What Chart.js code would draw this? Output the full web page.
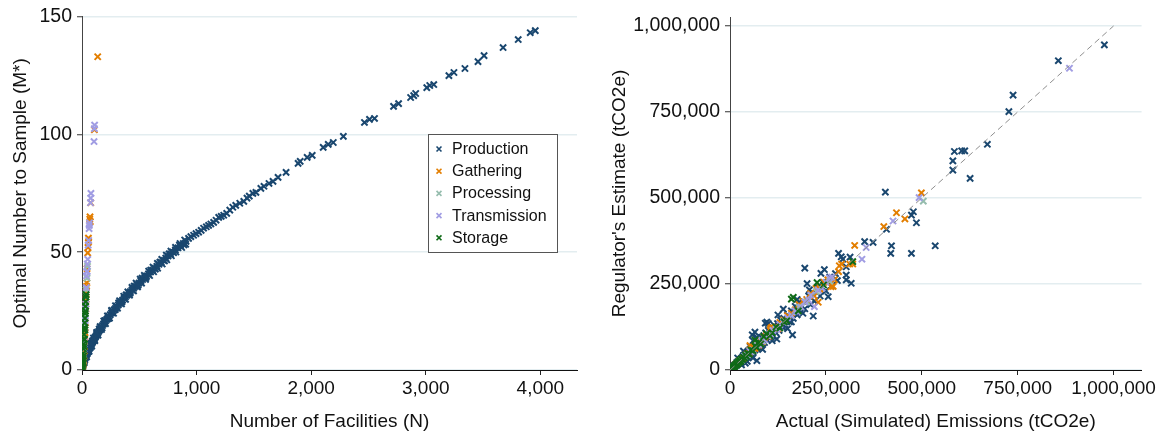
<!DOCTYPE html>
<html>
<head>
<meta charset="utf-8">
<title>Optimal sampling and regulator estimates</title>
<script src="https://cdn.jsdelivr.net/npm/chart.js@4/dist/chart.umd.min.js"></script>
<style>
  html, body { margin: 0; padding: 0; background: #fff; }
  #wrap { position: relative; width: 1159px; height: 432px; overflow: hidden; }
  canvas { position: absolute; top: 0; }
  #left { left: 0; width: 590px; height: 432px; }
  #right { left: 590px; width: 569px; height: 432px; }
</style>
</head>
<body>
<div id="wrap">
  <canvas id="left" width="590" height="432"></canvas>
  <canvas id="right" width="569" height="432"></canvas>
</div>
<script>
// ---- Segments ----
const segments = ['Production', 'Gathering', 'Processing', 'Transmission', 'Storage'];

// ---- Left panel: number of facilities (N) vs optimal sample size (M*) ----
const productionN = [
  1, 2, 3, 4, 5, 6, 7, 8, 9, 10,
  12, 14, 16, 18, 20, 22, 25, 28, 31, 34,
  37, 40, 44, 48, 52, 56, 60, 65, 70, 75,
  80, 86, 92, 98, 104, 110, 117, 124, 131, 138,
  146, 154, 162, 170, 179, 188, 197, 206, 216, 226,
  236, 247, 258, 269, 280, 292, 304, 316, 328, 341,
  354, 367, 380, 394, 408, 422, 436, 451, 466, 481,
  497, 513, 529, 546, 563, 580, 598, 616, 634, 653,
  672, 691, 711, 731, 751, 772, 793, 815, 838, 861,
  884, 908,
  15, 24, 33, 46, 58, 72, 90, 108, 128, 150,
  175, 200, 230, 260, 290, 320, 350, 385, 420, 455,
  490, 525, 560, 600, 640, 680, 720, 760, 800, 850,
  890,
  20, 40, 62, 85, 112, 140, 170, 205, 240, 275,
  310, 345, 380, 415, 450, 485, 520, 555, 590, 625,
  660, 700, 740, 780, 820, 870, 905,
  30, 52, 75, 100, 128, 158, 190, 222, 258, 292,
  328, 364, 400, 436, 472, 508, 544, 582, 620, 658,
  696, 736, 776, 816, 856, 896,
  930, 950, 974, 995, 1018, 1040, 1061, 1085, 1105, 1125,
  1149, 1170, 1193, 1215, 1237, 1263, 1290, 1316, 1342, 1377,
  1412, 1440, 1460, 1491, 1518, 1561, 1588, 1632, 1667, 1711,
  1781, 1886, 1904, 1965, 2009, 2105, 2149, 2193, 2281, 2465,
  2509, 2553, 2719, 2763, 2868, 2895, 2912, 3009, 3035, 3070,
  3202, 3246, 3342, 3456, 3509, 3675, 3807, 3912, 3956
];
const productionM = [
  0.4, 0.7, 1.0, 1.3, 1.6, 1.8, 2.0, 2.3, 2.5, 2.7,
  3.0, 3.3, 3.6, 3.9, 4.2, 4.5, 4.9, 5.3, 5.6, 6.0,
  6.4, 6.7, 7.1, 7.6, 8.0, 8.4, 8.8, 9.3, 9.8, 10.2,
  10.7, 11.3, 11.8, 12.4, 12.9, 13.4, 14.0, 14.6, 15.2, 15.8,
  16.4, 17.0, 17.7, 18.3, 18.9, 19.6, 20.2, 20.9, 21.5, 22.2,
  22.8, 23.5, 24.2, 24.9, 25.5, 26.2, 26.9, 27.6, 28.3, 29.0,
  29.7, 30.4, 31.1, 31.8, 32.6, 33.3, 34.0, 34.7, 35.5, 36.2,
  36.9, 37.7, 38.4, 39.2, 40.0, 40.8, 41.6, 42.4, 43.2, 44.0,
  44.9, 45.7, 46.6, 47.5, 48.4, 49.3, 50.1, 51.0, 51.9, 52.8,
  53.7, 54.6,
  3.8, 4.3, 6.5, 7.0, 9.3, 9.5, 12.3, 12.8, 15.5, 17.4,
  17.9, 21.0, 21.8, 25.0, 25.6, 28.5, 29.0, 31.9, 32.6, 35.6,
  36.0, 39.0, 39.3, 42.4, 42.8, 45.8, 46.3, 49.3, 49.8, 53.0,
  53.1,
  3.1, 5.6, 7.9, 10.1, 12.5, 14.8, 17.2, 19.7, 22.0, 24.1,
  26.2, 28.1, 30.0, 31.8, 33.6, 35.3, 36.9, 38.5, 40.1, 41.7,
  43.2, 45.0, 46.8, 48.5, 50.1, 52.0, 53.4,
  6.6, 9.1, 11.3, 13.6, 16.0, 18.4, 20.8, 23.0, 25.3, 27.3,
  29.4, 31.3, 33.2, 35.1, 36.9, 38.6, 40.2, 42.0, 43.7, 45.3,
  47.0, 48.8, 50.5, 52.1, 53.7, 55.2,
  55.9, 56.6, 57.2, 57.9, 58.5, 59.3, 60.2, 60.8, 61.4, 62.0,
  62.7, 63.6, 64.8, 65.2, 65.7, 66.5, 67.9, 69.1, 69.9, 70.8,
  71.6, 73.0, 73.8, 75.0, 75.4, 77.1, 78.0, 79.2, 80.1, 81.8,
  83.9, 87.7, 88.6, 90.3, 91.1, 94.5, 95.8, 96.6, 99.2, 105.1,
  106.4, 106.8, 111.9, 113.1, 115.7, 116.5, 117.4, 119.9, 120.8, 121.2,
  125.0, 126.3, 128.0, 130.9, 133.5, 136.9, 140.3, 143.2, 144.1
];
const gatheringN = [6, 8, 10, 12, 14, 16, 18, 20, 22, 24, 26, 28, 30, 34, 36, 38, 40, 42, 44, 50, 52, 56, 58, 68, 70, 72, 76, 108, 137];
const gatheringM = [0.5, 1, 2, 3, 4, 6, 8, 10, 12, 14, 15.6, 18, 20, 26, 30, 33, 35.5, 37, 43, 49.7, 52, 56, 54.5, 64, 65, 63, 71, 102, 133];
const processingN = [6, 8, 12, 16, 20, 24, 28, 32, 36, 44, 48];
const processingM = [2, 4, 7, 11, 15, 19, 23, 27, 34, 39, 44];
const transmissionN = [12, 16, 20, 26, 28, 30, 32, 34, 36, 38, 40, 42, 44, 46, 50, 54, 58, 62, 64, 66, 74, 76, 78, 105, 108, 110];
const transmissionM = [6, 9, 12, 18, 21, 22, 26, 28, 31, 35, 40, 41.6, 42, 45, 47, 53, 55, 60, 61.4, 62.5, 71, 73, 75, 97, 102.5, 104];
const storageN = [1, 2, 3, 4, 5, 6, 8, 10, 10, 12, 14, 14, 16, 18, 18, 20, 22, 22, 24, 26, 26, 28, 30, 30, 32, 34, 36];
const storageM = [0.5, 1, 1.5, 2, 3, 4, 5, 7, 3, 9, 11, 6, 13, 15, 10, 17, 18, 13, 20, 22, 17, 24, 27, 25, 29, 31, 32];

const facilityTicks = [0, 1000, 2000, 3000, 4000];
const sampleTicks = [0, 50, 100, 150];

// ---- Right panel: [actual (simulated), regulator's estimate], thousand tCO2e ----
const productionEmissions = [
  [976, 945], [856, 899], [738, 799], [727, 751], [671, 656], [585, 635], [604, 637], [612, 637],
  [581, 608], [581, 581], [626, 557], [405, 517], [478, 460], [473, 450], [486, 428], [408, 409],
  [351, 373], [373, 371], [421, 361], [535, 361], [419, 339], [473, 339], [283, 339], [290, 329],
  [313, 328], [294, 322], [195, 296], [246, 292], [303, 300], [237, 281], [303, 276], [303, 262],
  [316, 252], [201, 251], [256, 213], [207, 233], [217, 157], [163, 102], [92, 136], [58, 102],
  [53, 68], [228, 240], [139, 177], [96, 139], [65, 110], [70, 27], [35, 42], [122, 90], [139, 124],
  [2, 3], [4, 2], [5, 6], [7, 5], [8, 9], [10, 8], [12, 14], [13, 11], [15, 16], [17, 14],
  [18, 22], [20, 18], [22, 25], [24, 20], [25, 30], [27, 24], [29, 33], [30, 27], [32, 36], [34, 29],
  [36, 40], [38, 33], [40, 45], [42, 36], [44, 50], [46, 41], [48, 55], [50, 44], [52, 60], [55, 48],
  [57, 65], [60, 52], [62, 70], [65, 58], [68, 75], [70, 62], [72, 82], [75, 66], [78, 88], [80, 70],
  [82, 95], [85, 78], [88, 100], [90, 80], [93, 108], [96, 88], [100, 115], [104, 92], [108, 120], [112, 100],
  [115, 130], [120, 108], [124, 135], [128, 115], [132, 145], [136, 125], [140, 150], [145, 130], [150, 160], [155, 140],
  [160, 172], [165, 150], [170, 185], [175, 160], [180, 195], [185, 170], [190, 200], [195, 178], [205, 215], [210, 190],
  [215, 225], [220, 200], [230, 240], [235, 215], [242, 255], [250, 230], [260, 270], [265, 245], [275, 280], [280, 260],
  [45, 25], [60, 35], [70, 95], [35, 55], [85, 60], [110, 85], [125, 160], [100, 135], [150, 120], [175, 205],
  [60, 85], [30, 15], [20, 35], [40, 20], [160, 140], [190, 165]
];
const gatheringEmissions = [
  [499, 515], [434, 457], [456, 439], [401, 417], [325, 362], [312, 308], [285, 303], [283, 286],
  [272, 262], [224, 237], [263, 242], [291, 308], [320, 308], [269, 243], [230, 197], [234, 235],
  [109, 124], [52, 71], [106, 121],
  [5, 6], [10, 9], [15, 16], [20, 19], [25, 27], [30, 31], [35, 34], [40, 42], [45, 46], [50, 48],
  [55, 58], [60, 62], [65, 63], [70, 75], [75, 72], [80, 85], [85, 82], [90, 95], [95, 100], [100, 98],
  [105, 115], [110, 118], [115, 122], [120, 125], [125, 120], [130, 138], [140, 145], [150, 158], [160, 165], [170, 175],
  [180, 190], [190, 200], [200, 205], [210, 222], [220, 215], [235, 240], [245, 255], [255, 262]
];
const processingEmissions = [
  [504, 491], [5, 5], [12, 12], [20, 21], [30, 29], [40, 41], [55, 54], [70, 71], [85, 84],
  [100, 102], [120, 119], [140, 142], [160, 158], [180, 183], [200, 198], [225, 228], [260, 258]
];
const transmissionEmissions = [
  [885, 877], [493, 501], [425, 433], [355, 356], [344, 322], [259, 267], [265, 270], [211, 218],
  [123, 121], [176, 169], [220, 184],
  [8, 8], [15, 14], [22, 23], [30, 28], [38, 40], [45, 43], [52, 55], [60, 58], [68, 70], [75, 74],
  [82, 85], [90, 88], [98, 100], [105, 104], [112, 115], [120, 118], [130, 132], [140, 138], [150, 152], [160, 158],
  [170, 172], [185, 183], [195, 198], [205, 203], [230, 232], [240, 238], [250, 255]
];
const storageEmissions = [
  [227, 254], [244, 247], [320, 315], [160, 206], [165, 211], [178, 172], [148, 143], [141, 140],
  [104, 100], [88, 97], [65, 87],
  [1, 1], [2, 3], [3, 2], [4, 5], [5, 4], [6, 7], [8, 6], [9, 10], [10, 9], [12, 13],
  [13, 11], [15, 16], [17, 15], [18, 20], [20, 18], [22, 24], [24, 22], [26, 28], [28, 25], [30, 32],
  [33, 30], [35, 37], [38, 35], [40, 43], [43, 40], [46, 48], [50, 46], [55, 58], [60, 56], [65, 70],
  [70, 66], [75, 80], [80, 76], [95, 105], [110, 108], [120, 125], [130, 122]
];
// 45-degree reference line endpoints (tCO2e)
const parityLine = [0, 1000000];
const emissionTicks = [0, 250000, 500000, 750000, 1000000];

// ---- Styling ----
const segmentColors = ['#1a476f', '#e37e00', '#96bdae', '#a19de3', '#0f6a17'];
const FONT = '"Liberation Sans", Arial, Helvetica, sans-serif';
Chart.defaults.font.family = FONT;
Chart.defaults.color = '#111';

const zip = (xs, ys) => xs.map((x, i) => ({ x: x, y: ys[i] }));
const fromThousands = (pairs) => pairs.map(p => ({ x: p[0] * 1000, y: p[1] * 1000 }));
const fmt = v => Number(v).toLocaleString('en-US');

function markerDataset(label, data, i) {
  return {
    type: 'scatter',
    label: label,
    data: data,
    showLine: false,
    pointStyle: 'crossRot',
    pointRadius: 4.4,
    pointBorderWidth: 2,
    borderColor: segmentColors[i],
    backgroundColor: segmentColors[i],
    order: segments.length - i
  };
}

function axisX(min, max, ticks, title) {
  return {
    type: 'linear', min: min, max: max,
    afterBuildTicks: s => { s.ticks = ticks.map(v => ({ value: v })); },
    afterFit: s => { s.height = 62; },
    ticks: { font: { size: 19 }, color: '#111', padding: 2, maxRotation: 0, autoSkip: false, callback: v => fmt(v) },
    grid: { drawOnChartArea: false, drawTicks: true, tickLength: 5, tickColor: '#222', tickWidth: 1 },
    border: { color: '#111', width: 1 },
    title: { display: true, text: title, font: { size: 19, lineHeight: 1.05 }, color: '#111', padding: { top: 0, bottom: 0 } }
  };
}
function axisY(min, max, ticks, title, width, titlePad) {
  return {
    type: 'linear', min: min, max: max,
    afterBuildTicks: s => { s.ticks = ticks.map(v => ({ value: v })); },
    afterFit: s => { s.width = width; },
    ticks: { font: { size: 19.5 }, color: '#111', padding: 5, autoSkip: false, callback: v => fmt(v) },
    grid: { color: '#e3edf0', lineWidth: 1.5, drawTicks: true, tickLength: 5, tickColor: '#333', tickWidth: 1 },
    border: { color: '#444', width: 1 },
    title: { display: true, text: title, font: { size: 19, lineHeight: 1.05 }, color: '#111', padding: { top: titlePad, bottom: 0 } }
  };
}

// Boxed legend placed inside the plot region
const boxedLegend = {
  id: 'boxedLegend',
  afterDatasetsDraw(chart, args, o) {
    const ctx = chart.ctx;
    ctx.save();
    ctx.fillStyle = '#fff';
    ctx.fillRect(o.x, o.y, o.w, o.h);
    ctx.strokeStyle = '#555';
    ctx.lineWidth = 1;
    ctx.strokeRect(o.x + 0.5, o.y + 0.5, o.w, o.h);
    ctx.font = '16px ' + FONT;
    ctx.textBaseline = 'middle';
    ctx.textAlign = 'left';
    chart.data.datasets.forEach((ds, i) => {
      const cy = o.y + o.first + i * o.step;
      const r = 3.5 * Math.SQRT1_2;
      ctx.strokeStyle = ds.borderColor;
      ctx.lineWidth = 1.6;
      ctx.beginPath();
      ctx.moveTo(o.markX - r, cy - r); ctx.lineTo(o.markX + r, cy + r);
      ctx.moveTo(o.markX - r, cy + r); ctx.lineTo(o.markX + r, cy - r);
      ctx.stroke();
      ctx.fillStyle = '#111';
      ctx.fillText(ds.label, o.textX, cy + 0.5);
    });
    ctx.restore();
  }
};

const common = {
  responsive: false,
  animation: false,
  events: [],
  devicePixelRatio: 1,
};

new Chart(document.getElementById('left'), {
  type: 'scatter',
  data: {
    datasets: [
      markerDataset(segments[0], zip(productionN, productionM), 0),
      markerDataset(segments[1], zip(gatheringN, gatheringM), 1),
      markerDataset(segments[2], zip(processingN, processingM), 2),
      markerDataset(segments[3], zip(transmissionN, transmissionM), 3),
      markerDataset(segments[4], zip(storageN, storageM), 4)
    ]
  },
  options: Object.assign({}, common, {
    layout: { padding: { top: 16, right: 13, bottom: 0, left: 0 } },
    plugins: {
      legend: { display: false }, tooltip: { enabled: false },
      boxedLegend: { x: 428, y: 134, w: 129, h: 118, first: 15, step: 22.2, markX: 439, textX: 452 }
    },
    scales: {
      x: axisX(0, 4320, facilityTicks, 'Number of Facilities (N)'),
      y: axisY(0, 150, sampleTicks, 'Optimal Number to Sample (M*)', 82, 11)
    }
  }),
  plugins: [boxedLegend]
});

new Chart(document.getElementById('right'), {
  type: 'scatter',
  data: {
    datasets: [
      markerDataset(segments[0], fromThousands(productionEmissions), 0),
      markerDataset(segments[1], fromThousands(gatheringEmissions), 1),
      markerDataset(segments[2], fromThousands(processingEmissions), 2),
      markerDataset(segments[3], fromThousands(transmissionEmissions), 3),
      markerDataset(segments[4], fromThousands(storageEmissions), 4),
      {
        type: 'line',
        label: 'y = x',
        data: parityLine.map(v => ({ x: v, y: v })),
        borderColor: '#8f8f8f',
        borderWidth: 1,
        borderDash: [6, 4],
        pointRadius: 0,
        fill: false,
        order: 0
      }
    ]
  },
  options: Object.assign({}, common, {
    layout: { padding: { top: 17, right: 17, bottom: 0, left: 0 } },
    plugins: { legend: { display: false }, tooltip: { enabled: false } },
    scales: {
      x: axisX(0, 1073000, emissionTicks, 'Actual (Simulated) Emissions (tCO2e)'),
      y: axisY(0, 1026000, emissionTicks, "Regulator's Estimate (tCO2e)", 140, 20)
    }
  })
});
</script>
</body>
</html>
